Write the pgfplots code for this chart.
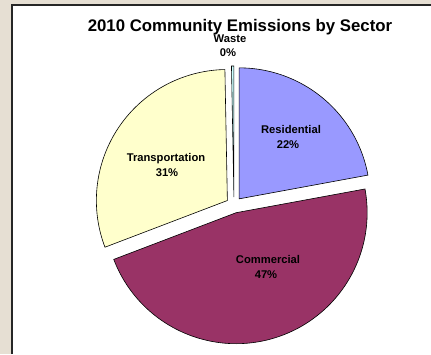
\documentclass[border=0pt]{standalone}
\usepackage{pgfplots}
\usepackage{pgfplotstable}
\pgfplotsset{compat=1.18}
\usepackage{fontspec}
\setmainfont{Liberation Sans}
\definecolor{bgbeige}{HTML}{E6DFD3}
\definecolor{cres}{HTML}{9999FF}
\definecolor{ccom}{HTML}{993366}
\definecolor{ctra}{HTML}{FFFFCC}
\definecolor{cwas}{HTML}{CCFFFF}
\pgfplotstableread{
sector value
Residential 22.1
Commercial 47.1
Transportation 30.5
Waste 0.3
}\piedata
\begin{document}
\begin{tikzpicture}
\pgfplotstablegetelem{0}{value}\of\piedata \let\vA\pgfplotsretval
\pgfplotstablegetelem{1}{value}\of\piedata \let\vB\pgfplotsretval
\pgfplotstablegetelem{2}{value}\of\piedata \let\vC\pgfplotsretval
\pgfplotstablegetelem{3}{value}\of\piedata \let\vD\pgfplotsretval
\def\cx{234}\def\cy{149}\def\R{131}\def\ex{8}
% angles (clockwise from 12 o'clock)
\pgfmathsetmacro\sA{90}
\pgfmathsetmacro\eA{\sA-3.6*\vA}
\pgfmathsetmacro\eB{\eA-3.6*\vB}
\pgfmathsetmacro\eC{\eB-3.6*\vC}
\pgfmathsetmacro\eD{\eC-3.6*\vD}
\pgfmathsetmacro\mA{(\sA+\eA)/2}
\pgfmathsetmacro\mB{(\eA+\eB)/2}
\pgfmathsetmacro\mC{(\eB+\eC)/2}
\pgfmathsetmacro\mD{(\eC+\eD)/2}
\pgfmathsetmacro\xA{\cx+\ex*cos(\mA)}\pgfmathsetmacro\yA{\cy+\ex*sin(\mA)}
\pgfmathsetmacro\xB{\cx+\ex*cos(\mB)}\pgfmathsetmacro\yB{\cy+\ex*sin(\mB)}
\pgfmathsetmacro\xC{\cx+\ex*cos(\mC)}\pgfmathsetmacro\yC{\cy+\ex*sin(\mC)}
\pgfmathsetmacro\xD{\cx+\ex*cos(\mD)}\pgfmathsetmacro\yD{\cy+\ex*sin(\mD)}
\begin{axis}[
  width=431pt, height=354pt, scale only axis,
  xmin=0, xmax=431, ymin=0, ymax=354,
  hide axis, clip=false,
]
\path[fill=bgbeige] (axis cs:0,0) rectangle (axis cs:431,354);
\path[fill=white] (axis cs:12,0) rectangle (axis cs:431,349);
\draw[line width=1.4pt, color=black!85] (axis cs:12,0) -- (axis cs:12,349) -- (axis cs:431,349);

\addplot[fill=cres, draw=black, line width=0.6pt, domain=\eA:\sA, samples=90, variable=\t]
  ({\xA+\R*cos(\t)}, {\yA+\R*sin(\t)}) -- (axis cs:\xA,\yA) -- cycle;
\addplot[fill=ccom, draw=black, line width=0.6pt, domain=\eB:\eA, samples=160, variable=\t]
  ({\xB+\R*cos(\t)}, {\yB+\R*sin(\t)}) -- (axis cs:\xB,\yB) -- cycle;
\addplot[fill=ctra, draw=black, line width=0.6pt, domain=\eC:\eB, samples=120, variable=\t]
  ({\xC+\R*cos(\t)}, {\yC+\R*sin(\t)}) -- (axis cs:\xC,\yC) -- cycle;
\addplot[fill=cwas, draw=black, line width=0.6pt, domain=\eD:\eC, samples=5, variable=\t]
  ({\xD+\R*cos(\t)}, {\yD+\R*sin(\t)}) -- (axis cs:\xD,\yD) -- cycle;

\node[anchor=base, font=\fontsize{16.8}{20}\selectfont\bfseries] at (axis cs:240,322.5) {2010 Community Emissions by Sector};
\begin{scope}[every node/.style={anchor=base, font=\fontsize{11.2}{13}\selectfont\bfseries, inner sep=0pt}]
\node at (axis cs:291,220) {Residential};
\node at (axis cs:288,205) {22\%};
\node at (axis cs:166,193) {Transportation};
\node at (axis cs:167,178) {31\%};
\node at (axis cs:268,91) {Commercial};
\node at (axis cs:266,76) {47\%};
\node at (axis cs:230,311.3) {Waste};
\node at (axis cs:228,297) {0\%};
\end{scope}
\end{axis}
\pgfresetboundingbox
\path[use as bounding box] (0,0) rectangle (431pt,354pt);
\end{tikzpicture}
\end{document}
